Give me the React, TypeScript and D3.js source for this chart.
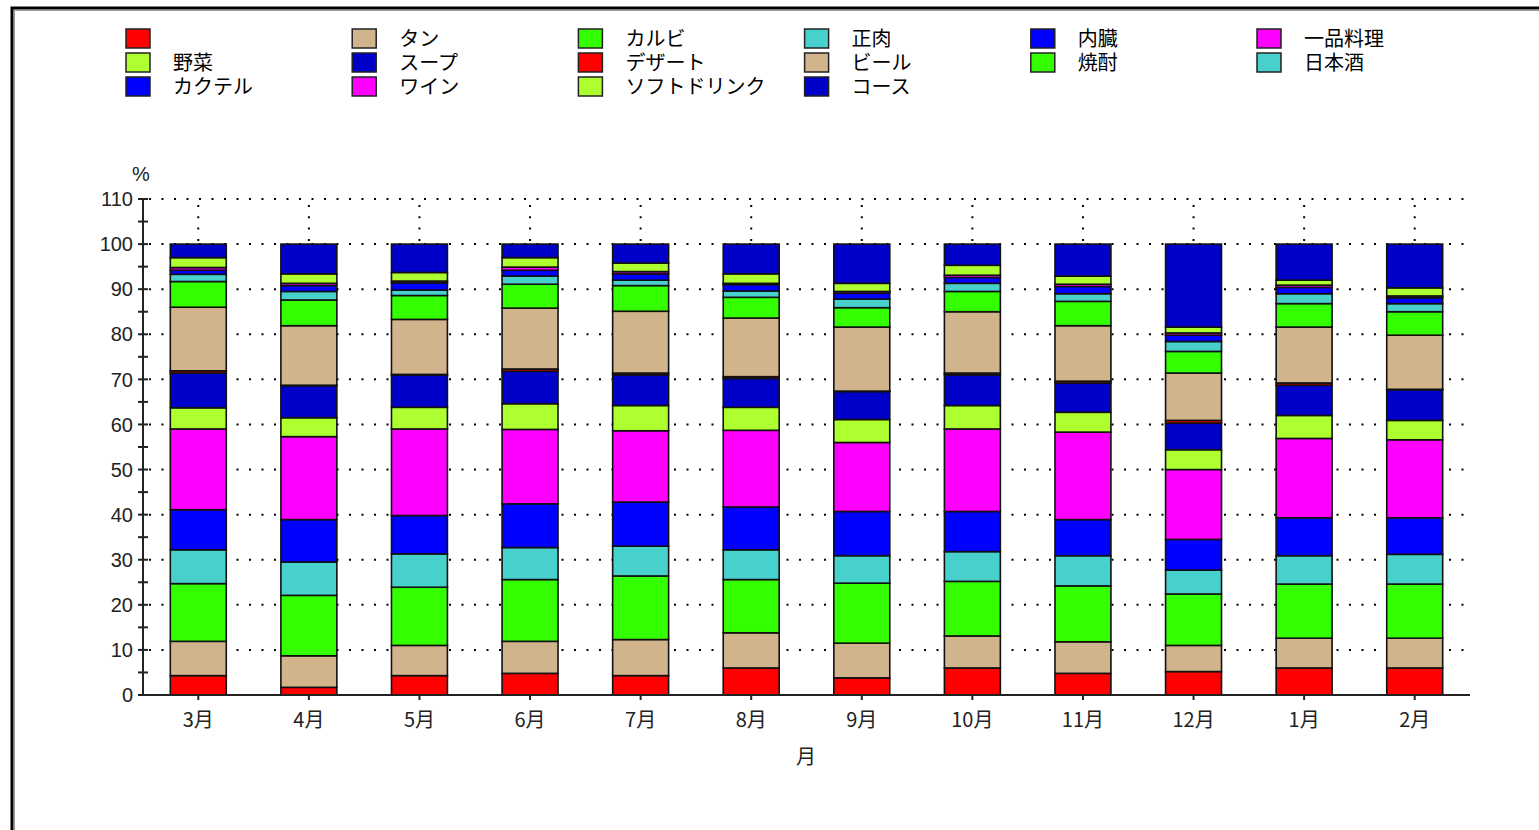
import React from "react";
import * as d3 from "d3";

const months = ["3月", "4月", "5月", "6月", "7月", "8月", "9月", "10月", "11月", "12月", "1月", "2月"];

const seriesNames = ["", "タン", "カルビ", "正肉", "内臓", "一品料理", "野菜", "スープ", "デザート", "ビール", "焼酎", "日本酒", "カクテル", "ワイン", "ソフトドリンク", "コース"];
const seriesColors = ["#FF0000", "#D2B48C", "#33FF00", "#48D1CC", "#0000FF", "#FF00FF", "#ADFF2F", "#0000C8", "#FF0000", "#D2B48C", "#33FF00", "#48D1CC", "#0000FF", "#FF00FF", "#ADFF2F", "#0000C8"];

const sUnnamed = [4.3, 1.7, 4.3, 4.8, 4.3, 6.0, 3.8, 6.0, 4.8, 5.2, 6.0, 6.0];
const sTan = [7.6, 7.0, 6.7, 7.1, 8.0, 7.8, 7.7, 7.1, 7.0, 5.8, 6.6, 6.6];
const sKalbi = [12.8, 13.4, 12.9, 13.7, 14.1, 11.8, 13.3, 12.1, 12.4, 11.4, 12.0, 12.0];
const sShoniku = [7.5, 7.4, 7.4, 7.1, 6.6, 6.6, 6.1, 6.6, 6.7, 5.3, 6.3, 6.6];
const sNaizo = [8.9, 9.4, 8.5, 9.7, 9.8, 9.5, 9.8, 8.9, 8.0, 6.8, 8.4, 8.1];
const sIppin = [17.9, 18.4, 19.2, 16.5, 15.8, 17.0, 15.3, 18.3, 19.4, 15.5, 17.6, 17.3];
const sYasai = [4.7, 4.2, 4.8, 5.7, 5.6, 5.1, 5.1, 5.2, 4.4, 4.4, 5.1, 4.3];
const sSoup = [7.7, 7.1, 7.2, 7.2, 6.8, 6.4, 6.2, 6.8, 6.5, 5.9, 6.7, 6.8];
const sDessert = [0.5, 0.1, 0.1, 0.5, 0.4, 0.4, 0.1, 0.4, 0.4, 0.6, 0.5, 0.1];
const sBeer = [14.1, 13.2, 12.2, 13.5, 13.7, 13.0, 14.2, 13.6, 12.3, 10.5, 12.4, 12.0];
const sShochu = [5.7, 5.7, 5.3, 5.3, 5.7, 4.6, 4.3, 4.5, 5.4, 4.8, 5.2, 5.2];
const sSake = [1.6, 1.9, 1.2, 1.8, 1.2, 1.4, 1.9, 1.8, 1.7, 2.2, 2.2, 1.8];
const sCocktail = [0.9, 1.3, 1.6, 1.3, 1.4, 1.4, 1.3, 1.3, 1.6, 1.4, 1.4, 1.3];
const sWine = [0.6, 0.5, 0.4, 0.7, 0.5, 0.3, 0.4, 0.5, 0.5, 0.5, 0.5, 0.4];
const sSoftDrink = [2.2, 2.1, 1.9, 2.1, 1.9, 2.1, 1.8, 2.2, 1.8, 1.3, 1.1, 1.8];
const sCourse = [3.0, 6.6, 6.3, 3.0, 4.2, 6.6, 8.7, 4.7, 7.1, 18.4, 8.0, 9.7];

const seriesValues = [sUnnamed, sTan, sKalbi, sShoniku, sNaizo, sIppin, sYasai, sSoup, sDessert, sBeer, sShochu, sSake, sCocktail, sWine, sSoftDrink, sCourse];

const yTicks = [0, 10, 20, 30, 40, 50, 60, 70, 80, 90, 100, 110];
const yMinorTicks = [5, 15, 25, 35, 45, 55, 65, 75, 85, 95, 105];

const W = 1539;
const H = 830;
const NUM_FONT = "'Liberation Sans', Arial, sans-serif";
const JP_FONT = "'Noto Sans CJK JP', 'Noto Sans', sans-serif";

export default function App() {
  const x = d3.scaleBand<string>().domain(months).range([143, 1470]).paddingInner(0.494).paddingOuter(0.247);
  const y = d3.scaleLinear().domain([0, 110]).range([695, 199]);

  const table = months.map((m, i) => {
    const row: Record<string, number | string> = { month: m };
    seriesValues.forEach((s, k) => {
      row["s" + k] = s[i];
    });
    return row;
  });
  const keys = seriesValues.map((_, k) => "s" + k);
  const stacked = d3.stack<any>().keys(keys).offset(d3.stackOffsetExpand)(table);

  const xLeft = 143;
  const xRight = 1470;

  return (
    <div style={{ position: "fixed", left: 0, top: 0, width: W, height: H, overflow: "hidden", background: "#fff" }}>
      <svg width={W} height={H} style={{ display: "block" }}>
        <rect x={0} y={0} width={W} height={H} fill="#fff" />
        {/* frame */}
        <rect x={12} y={8} width={W + 20} height={H + 20} fill="none" stroke="#000" strokeWidth={3} />
        <line x1={14} y1={10.5} x2={W} y2={10.5} stroke="#999" strokeWidth={1} />
        <line x1={14.5} y1={10} x2={14.5} y2={H} stroke="#999" strokeWidth={1} />

        {/* legend */}
        {seriesNames.map((name, k) => {
          const col = k % 6;
          const row = Math.floor(k / 6);
          const sx = 126 + col * 226.2;
          const sy = 29 + row * 24;
          return (
            <g key={"lg" + k}>
              <rect x={sx} y={sy} width={24} height={19} fill={seriesColors[k]} stroke="#222" strokeWidth={1.5} />
              <text x={sx + 47} y={sy + 9.5} dy="0.36em" fontFamily={JP_FONT} fontSize={20} fill="#000">
                {name}
              </text>
            </g>
          );
        })}

        {/* gridlines */}
        {yTicks.filter((t) => t > 0).map((t) => (
          <line key={"gh" + t} x1={xLeft + 6} x2={xRight - 2} y1={y(t)} y2={y(t)} stroke="#000" strokeWidth={2} strokeDasharray="2 10.5" />
        ))}
        {months.map((m) => {
          const cx = (x(m) as number) + x.bandwidth() / 2;
          return <line key={"gv" + m} x1={cx} x2={cx} y1={y(110) + 6} y2={y(0)} stroke="#000" strokeWidth={2} strokeDasharray="2 9.3" />;
        })}

        {/* bars */}
        {stacked.map((layer, k) => (
          <g key={"layer" + k}>
            {layer.map((d, i) => {
              const y0 = y(d[0] * 100);
              const y1 = y(d[1] * 100);
              return (
                <rect
                  key={i}
                  x={x(months[i]) as number}
                  y={y1}
                  width={x.bandwidth()}
                  height={Math.max(0, y0 - y1)}
                  fill={seriesColors[k]}
                  stroke="#111"
                  strokeWidth={1.6}
                />
              );
            })}
          </g>
        ))}

        {/* y axis */}
        <line x1={xLeft} x2={xLeft} y1={y(110)} y2={y(0)} stroke="#222" strokeWidth={2} />
        {yTicks.map((t) => (
          <g key={"yt" + t}>
            <line x1={xLeft - 5} x2={xLeft + 5} y1={y(t)} y2={y(t)} stroke="#222" strokeWidth={2} />
            <text x={xLeft - 10} y={y(t)} dy="0.36em" textAnchor="end" fontFamily={NUM_FONT} fontSize={20} fill="#222">
              {t}
            </text>
          </g>
        ))}
        {yMinorTicks.map((t) => (
          <line key={"ym" + t} x1={xLeft - 5} x2={xLeft + 5} y1={y(t)} y2={y(t)} stroke="#222" strokeWidth={2} />
        ))}
        <text x={141} y={174} dy="0.36em" textAnchor="middle" fontFamily={NUM_FONT} fontSize={20} fill="#222">
          %
        </text>

        {/* x axis */}
        <line x1={xLeft} x2={xRight} y1={y(0)} y2={y(0)} stroke="#222" strokeWidth={2} />
        {months.map((m) => {
          const cx = (x(m) as number) + x.bandwidth() / 2;
          return (
            <g key={"xt" + m}>
              <line x1={cx} x2={cx} y1={y(0)} y2={y(0) + 5} stroke="#222" strokeWidth={2} />
              <text x={cx} y={720} dy="0.36em" textAnchor="middle" fontFamily={JP_FONT} fontSize={20} fill="#222">
                {m}
              </text>
            </g>
          );
        })}
        <text x={806} y={757} dy="0.36em" textAnchor="middle" fontFamily={JP_FONT} fontSize={20} fill="#222">
          月
        </text>
      </svg>
    </div>
  );
}
